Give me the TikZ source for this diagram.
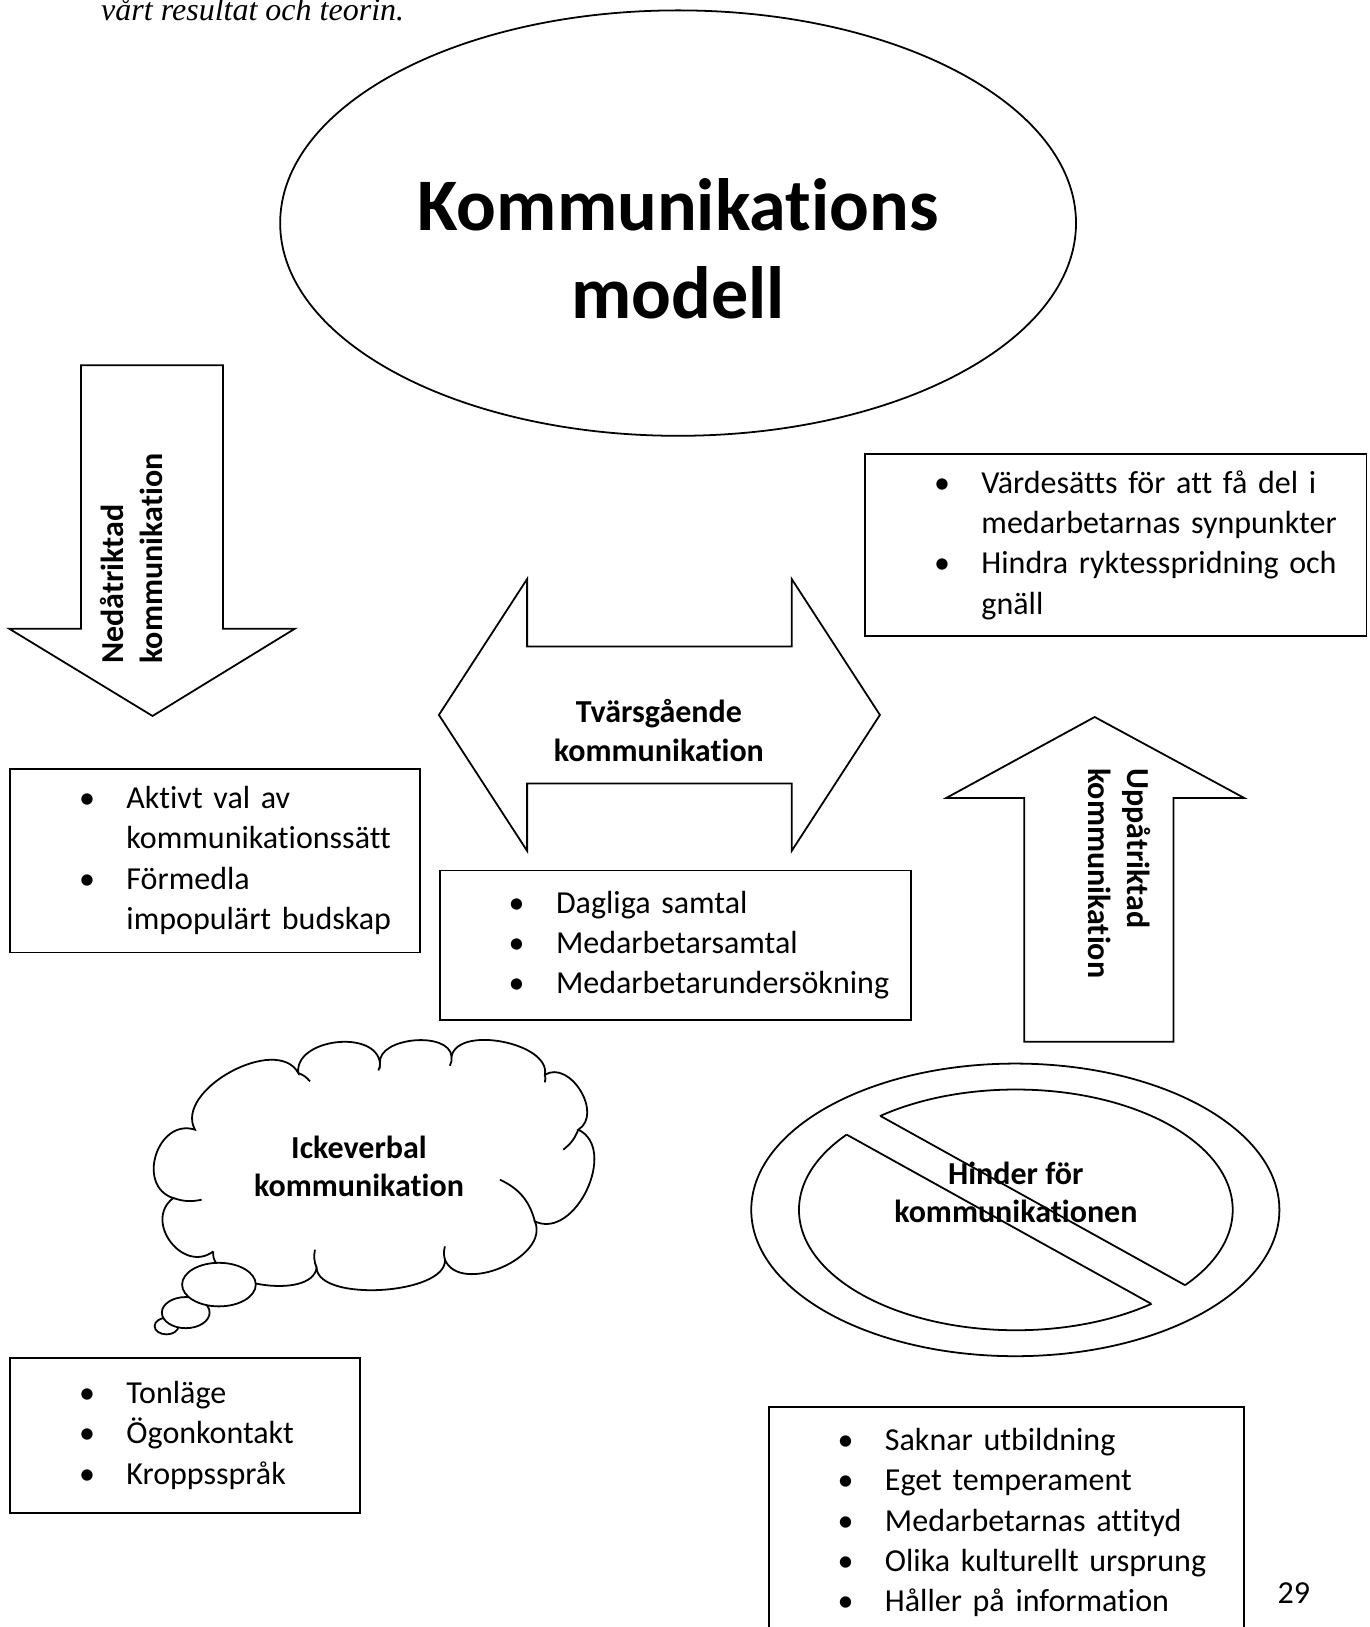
\documentclass[tikz,border=0pt]{standalone}
\usepackage{fontspec}
\setmainfont{Carlito}[Ligatures = NoCommon]
\newfontfamily\serifit{Liberation Serif}
\usetikzlibrary{calc, intersections}

\newcommand{\blt}{\makebox[39.2pt][l]{\hspace{23.2pt}\textbullet}}
\newcommand{\ind}{\hspace*{39.2pt}}

\tikzset{
  shapeline/.style = {black, line width = 0.6pt},
  listbox/.style = {draw, black, line width = 0.6pt, anchor = north west, inner sep = 0pt, align = left, font = \fontsize{10.8}{13.6}\selectfont},
  boldlbl/.style = {black, align = center, inner sep = 0pt, font = \fontsize{10.8}{13}\selectfont\bfseries},
  vertlbl/.style = {boldlbl, align = left, anchor = west}
}

\begin{document}
\begin{tikzpicture} [x = 0.35pt, y = -0.35pt]
\useasboundingbox (0, 0) rectangle (1320, 1568);

\node[black, anchor = base west, inner sep = 0pt, font = \serifit\itshape\fontsize{10.8}{13}\selectfont] (caption) at (97, 20) {vårt resultat och teorin.};

% title
\draw[shapeline] (653.5, 215) ellipse (383.5 and 205);
\node[boldlbl, font = \fontsize{25}{29.75}\selectfont\bfseries] (title) at (653.5, 240) {Kommunikations\\modell};

% arrows
\draw[shapeline] (78, 352) -- (215, 352) -- (215, 606) -- (284, 606) -- (147, 690) -- (9, 606) -- (78, 606) -- cycle;
\node[vertlbl, rotate = 90] (nedat) at (127, 640) {Nedåtriktad\\kommunikation};

\draw[shapeline] (423, 689) -- (508, 558) -- (508, 623) -- (763, 623) -- (763, 558) -- (848, 689) -- (763, 820) -- (763, 755) -- (508, 755) -- (508, 820) -- cycle;
\node[boldlbl] (tvars) at (635, 704) {Tvärsgående\\kommunikation};

\draw[shapeline] (1055, 691) -- (1199, 769) -- (1131, 769) -- (1131, 1004) -- (987, 1004) -- (987, 769) -- (912, 769) -- cycle;
\node[vertlbl, rotate = -90] (uppat) at (1079, 740) {Uppåtriktad\\kommunikation};

% lists
\node[listbox, text width = 169.05pt, minimum height = 61.25pt] (vardes) at (833, 437) {\blt Värdesätts för att få del i\\\ind medarbetarnas synpunkter\\\blt Hindra ryktesspridning och\\\ind gnäll};
\node[listbox, text width = 138.25pt, minimum height = 61.95pt] (aktivt) at (9, 740) {\blt Aktivt val av\\\ind kommunikationssätt\\\blt Förmedla\\\ind impopulärt budskap};
\node[listbox, text width = 158.9pt, minimum height = 50.4pt] (dagliga) at (423, 838) {\blt Dagliga samtal\\\blt Medarbetarsamtal\\\blt Medarbetarundersökning};
\node[listbox, text width = 117.95pt, minimum height = 52.15pt] (tonlage) at (9, 1308) {\blt Tonläge\\\blt Ögonkontakt\\\blt Kroppsspråk};
\node[listbox, text width = 160.3pt, minimum height = 78.05pt] (saknar) at (740, 1355) {\blt Saknar utbildning\\\blt Eget temperament\\\blt Medarbetarnas attityd\\\blt Olika kulturellt ursprung\\\blt Håller på information};

% cloud
\coordinate (ca) at (205.6, 1206.0);
\coordinate (cb) at (167.0, 1154.6);
\coordinate (cc) at (187.9, 1088.7);
\coordinate (cd) at (287.5, 1034.1);
\coordinate (ce) at (366.2, 1024.5);
\coordinate (cf) at (435.2, 1018.1);
\coordinate (cg) at (525.1, 1035.8);
\coordinate (ch) at (557.3, 1088.7);
\coordinate (ci) at (515.5, 1177.1);
\coordinate (cj) at (428.8, 1214.0);
\coordinate (ck) at (305.1, 1222.0);
\draw[shapeline] (ca) .. controls ($(ca)!0.57!90:(cb)$) and ($(cb)!0.57!-90:(ca)$) .. (cb)
  .. controls ($(cb)!0.55!90:(cc)$) and ($(cc)!0.55!-90:(cb)$) .. (cc)
  .. controls ($(cc)!0.38!90:(cd)$) and ($(cd)!0.38!-90:(cc)$) .. (cd)
  .. controls ($(cd)!0.42!90:(ce)$) and ($(ce)!0.42!-90:(cd)$) .. (ce)
  .. controls ($(ce)!0.36!90:(cf)$) and ($(cf)!0.36!-90:(ce)$) .. (cf)
  .. controls ($(cf)!0.34!90:(cg)$) and ($(cg)!0.34!-90:(cf)$) .. (cg)
  .. controls ($(cg)!0.46!90:(ch)$) and ($(ch)!0.46!-90:(cg)$) .. (ch)
  .. controls ($(ch)!0.44!90:(ci)$) and ($(ci)!0.44!-90:(ch)$) .. (ci)
  .. controls ($(ci)!0.4!90:(cj)$) and ($(cj)!0.4!-90:(ci)$) .. (cj)
  .. controls ($(cj)!0.27!90:(ck)$) and ($(ck)!0.27!-90:(cj)$) .. (ck)
  .. controls ($(ck)!0.32!90:(ca)$) and ($(ca)!0.32!-90:(ck)$) .. (ca);
\draw[shapeline] (cb) to[bend right = 15] (194.3, 1156.2);
\draw[shapeline] (cd) to[bend left = 15] (298.7, 1042.2);
\draw[shapeline] (ce) to[bend left = 15] (364.6, 1031.6);
\draw[shapeline] (cf) to[bend left = 15] (433.6, 1027.1);
\draw[shapeline] (cg) to[bend left = 15] (525.1, 1043.1);
\draw[shapeline] (ch) to[bend left = 15] (542.8, 1108.0);
\draw[shapeline] (ci) to[bend right = 25] (481.8, 1136.9);
\draw[shapeline] (cj) to[bend left = 15] (428.8, 1201.2);
\draw[shapeline] (ck) to[bend left = 15] (303.5, 1204.4);
\draw[shapeline, fill = white] (160.5, 1278) ellipse (11.5 and 8);
\draw[shapeline, fill = white] (179, 1265) ellipse (23 and 15);
\draw[shapeline, fill = white] (211, 1238) ellipse (35.5 and 21);
\node[boldlbl] (ickeverbal) at (346, 1124) {Ickeverbal\\kommunikation};

% no sign
\draw[shapeline] (978.5, 1166) ellipse (254.5 and 141);
\path[name path = inner] (979, 1166) ellipse (209 and 116);
\path[name path = barup] (779, 1036.8) -- (1179, 1259.2);
\path[name path = barlo] (779, 1072.8) -- (1179, 1295.2);
\path[name intersections = {of = inner and barup, by = {bu1, bu2}}];
\path[name intersections = {of = inner and barlo, by = {bl1, bl2}}];
\begin{scope}
\clip (600, 937.3) -- (1300, 1326.5) -- (1300, 900) -- (600, 900) -- cycle;
\draw[shapeline] (979, 1166) ellipse (209 and 116);
\end{scope}
\begin{scope}
\clip (600, 973.3) -- (1300, 1362.5) -- (1300, 1450) -- (600, 1450) -- cycle;
\draw[shapeline] (979, 1166) ellipse (209 and 116);
\end{scope}
\draw[shapeline] (bu1) -- (bu2);
\draw[shapeline] (bl1) -- (bl2);
\node[boldlbl] (hinder) at (979, 1149) {Hinder för\\kommunikationen};

\node[black, inner sep = 0pt, font = \fontsize{10.8}{13}\selectfont] (pagenr) at (1247, 1535) {29};
\end{tikzpicture}
\end{document}
